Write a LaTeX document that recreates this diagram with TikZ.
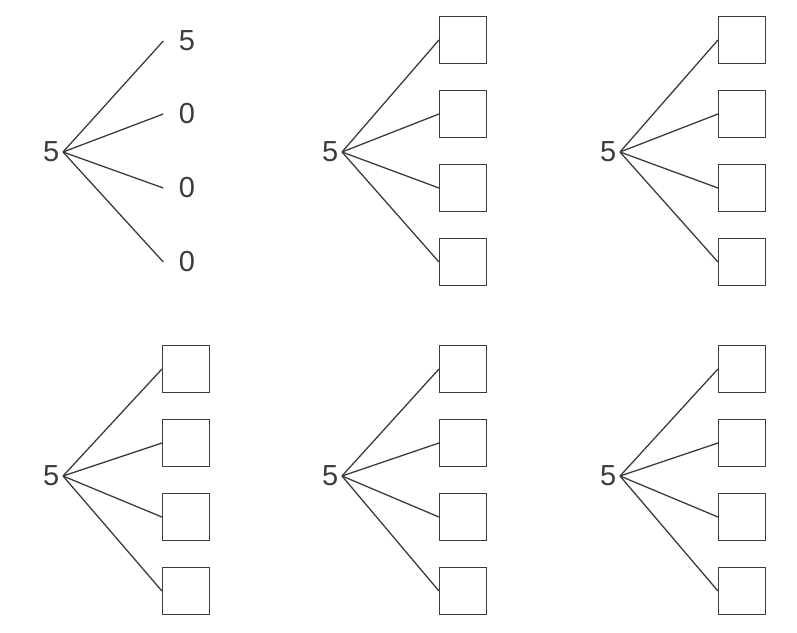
\documentclass[tikz,border=0pt]{standalone}
\usepackage{fontspec}
\setmainfont{Liberation Sans}
\usetikzlibrary{positioning}
\definecolor{inkgray}{HTML}{3C3C3C}

\begin{document}
\begin{tikzpicture}[x=1pt,y=-1pt,
		root/.style = {text=inkgray, font=\fontsize{29}{32}\selectfont, inner sep=3.5pt, anchor=east},
		val/.style = {text=inkgray, font=\fontsize{29}{32}\selectfont, minimum size=47pt, inner sep=0pt},
		blank/.style = {draw=inkgray, line width=1.1pt, minimum size=47pt, inner sep=0pt},
		branch/.style = {draw=inkgray, line width=1.3pt}]
	\useasboundingbox (0,0) rectangle (797,632);
	% first tree, filled in
	\node[root] (r1) at (63,152) {5};
	\node[val] (v1) at (187,41) {5};
	\node[val] (v2) at (187,114) {0};
	\node[val] (v3) at (187,188) {0};
	\node[val] (v4) at (187,262) {0};
	\foreach \k in {1,...,4}
		\draw[branch] (r1.east) -- (v\k.west);
	% the other trees, empty boxes
	\foreach \t/\rx/\ry/\bx/\by in {2/342/152/463/40, 3/620/152/742/40,
			4/63/476/186/369, 5/342/476/463/369, 6/620/476/742/369} {
		\node[root] (r\t) at (\rx,\ry) {5};
		\foreach \k in {1,...,4} {
			\node[blank] (b\t-\k) at (\bx,{\by+74*(\k-1)}) {};
			\draw[branch] (r\t.east) -- (b\t-\k.west);
		}
	}
\end{tikzpicture}
\end{document}
